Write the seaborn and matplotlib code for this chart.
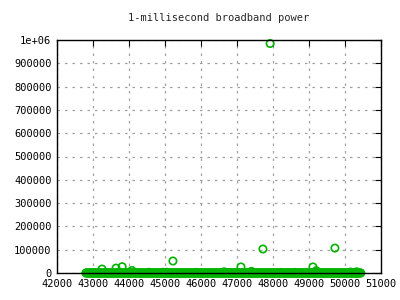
import numpy as np
import pandas as pd
import matplotlib
matplotlib.use("Agg")
import matplotlib.pyplot as plt
import seaborn as sns

# ---- data ----
# continuous near-zero readings across the record (samples every 20 units)
baseline_start = 42800
baseline_end = 50460
baseline_step = 20
baseline_value = 0.0

# readings that rise above the baseline
spike_x = [43250, 43640, 43810, 44080, 44550, 44950, 45050, 45220, 45850,
           46640, 46700, 47000, 47110, 47400, 47720, 47920, 48200, 48600,
           49110, 49200, 49720, 50150, 50320]
spike_y = [17000, 21000, 27000, 11000, 3000, 3000, 3000, 51500, 2500,
           5000, 2500, 3000, 26000, 7000, 103000, 985000, 2500, 2500,
           26000, 10000, 107000, 4000, 5000]

x_ticks = [42000, 43000, 44000, 45000, 46000, 47000, 48000, 49000, 50000, 51000]
y_ticks = [0, 100000, 200000, 300000, 400000, 500000, 600000, 700000, 800000, 900000, 1000000]
y_labels = ["0", "100000", "200000", "300000", "400000", "500000",
            "600000", "700000", "800000", "900000", "1e+06"]
title = "1-millisecond broadband power"

base_x = np.arange(baseline_start, baseline_end, baseline_step)
base_y = np.full(len(base_x), baseline_value)
df = pd.DataFrame({"t": np.concatenate([base_x, spike_x]),
                   "p": np.concatenate([base_y, spike_y])})

sns.set_style("white")
plt.rcParams["font.family"] = ["DejaVu Sans Mono"]

fig = plt.figure(figsize=(4, 3), dpi=100)
ax = fig.add_axes([57/400, 1-273/300, (381-57)/400, (273-40)/300])

green = "#00b400"
sns.scatterplot(data=df, x="t", y="p", ax=ax, marker="o", s=28,
                facecolors="none", edgecolor=green, linewidth=1.2,
                clip_on=False, zorder=3, legend=False)

ax.set_xlim(42000, 51000)
ax.set_ylim(0, 1000000)
ax.set_xticks(x_ticks)
ax.set_xticklabels([str(v) for v in x_ticks])
ax.set_yticks(y_ticks)
ax.set_yticklabels(y_labels)
ax.set_xlabel("")
ax.set_ylabel("")
ax.grid(True, color="#a0a0a0", linestyle=(0, (2, 4)), linewidth=0.9, zorder=1)
ax.tick_params(direction="in", length=4, width=0.8, top=True, right=True,
               labelsize=7.5, colors="black", pad=4)
for sp in ax.spines.values():
    sp.set_visible(True)
    sp.set_color("black")
    sp.set_linewidth(1.0)
    sp.set_zorder(5)
ax.set_title(title, fontsize=7.5, pad=14)

fig.savefig("out.png", dpi=100)
